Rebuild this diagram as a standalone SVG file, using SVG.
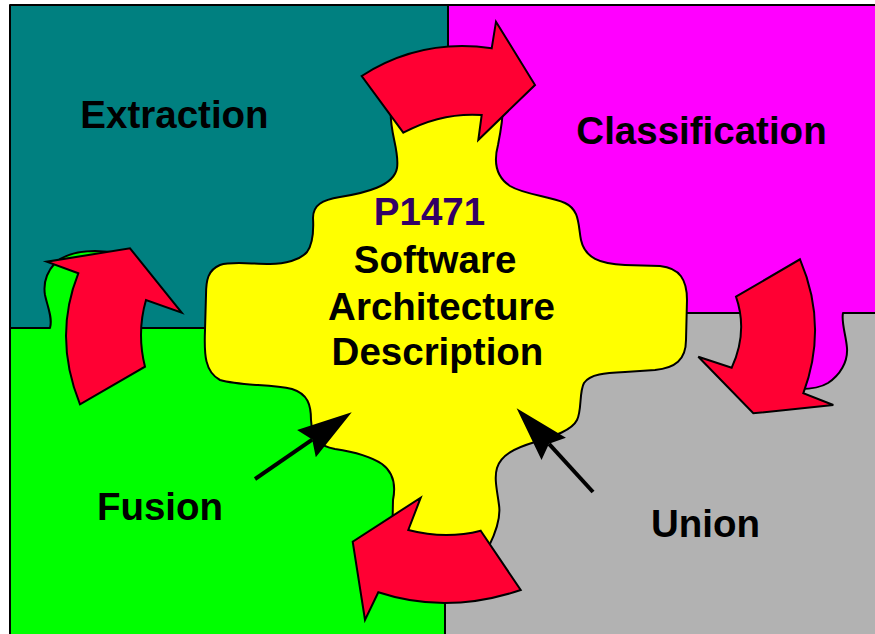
<svg xmlns="http://www.w3.org/2000/svg" width="875" height="634" viewBox="0 0 875 634">
  <style>
    .edge { stroke: #000; stroke-width: 2; stroke-linejoin: round; }
    .turn { fill: #FF0033; stroke: #000; stroke-width: 2; stroke-linejoin: miter; }
    .label { font-family: "Liberation Sans", Arial, sans-serif; font-weight: bold; font-size: 38.5px; fill: #000; text-anchor: middle; }
    .pointer { fill: none; stroke: #000; stroke-width: 4; }
  </style>
  <defs>
    <marker id="head" markerUnits="userSpaceOnUse" orient="auto" refX="0" refY="0" markerWidth="70" markerHeight="40" viewBox="-10 -20 70 40" overflow="visible">
      <path d="M48,0 L-7,-16.5 L0,0 L-7,16.5 Z" fill="#000"/>
    </marker>
  </defs>
  <rect width="875" height="634" fill="#fff"/>

  <!-- Quadrants -->
  <g id="extraction">
    <rect class="edge" x="10" y="5" width="438" height="323" fill="#008080"/>
  </g>
  <g id="union">
    <rect class="edge" x="445" y="313" width="440" height="330" fill="#B2B2B2"/>
  </g>
  <g id="classification">
    <path class="edge" fill="#FF00FF" d="M448,5 L885,5 L885,313 L843,313 C841,322 846,335 847,348 C848,362 840,375 828,383 C820,388 810,389 800,389 L795,389 L795,313 L448,313 Z"/>
  </g>
  <g id="fusion">
    <path class="edge" fill="#00FF00" d="M10,328 L50,328 C53,318 47,305 45,295 C43,283 47,272 55,263 C65,254 80,251 95,251 L112,252 L115,265 L115,328 L445,328 L445,645 L10,645 Z"/>
  </g>

  <!-- Central description -->
  <g id="p1471">
    <path class="edge" fill="#FFFF00" d="M391,105 C388,130 400,150 397,168 C394,186 365,193 340,197 C322,200 313,205 313,218 C314,235 312,245 307,252 C300,260 285,264 270,264 C250,264 232,261 220,265 C208,270 206,280 206,295 L205,330 C204,355 205,372 220,380 C240,386 270,384 292,389 C308,394 311,405 311,420 C312,440 320,446 335,449 C355,452 370,456 382,464 C393,472 396,485 393,500 L392,548 L486,548 L489,546 C496,532 501,518 499,505 C497,490 494,478 497,468 C501,455 515,448 535,442 C555,436 572,430 577,420 C582,410 579,392 584,383 C590,374 605,373 625,372 L655,370 C675,368 686,360 686,340 L687,300 C687,280 680,268 660,266 L625,265 C600,264 585,258 581,240 C578,225 580,210 565,203 C550,196 525,195 510,186 C495,176 494,160 498,145 C501,130 503,115 503,105 Z"/>
  </g>

  <!-- Connectors -->
  <g id="connectors">
    <path class="turn" d="M361.7,76 Q421,38 491.7,48.3 L496,21.7 L535,85 L478.3,140 L481.7,115 Q441.5,112.2 403.3,132.7 Z"/>
    <path class="turn" d="M736,296.7 L800,259.3 Q828.4,325.7 803.3,393.3 L833.3,405 L753.3,413.3 L698.3,356.7 L731.7,367.7 Q748.2,331.8 736,296.7 Z"/>
    <path class="turn" d="M480.7,530.7 L520.7,590 Q446.5,614.9 378.3,592.3 L365,620 L352.7,541.7 L420.7,497.7 L408.3,530 Q445.5,539.7 480.7,530.7 Z"/>
    <path class="turn" d="M78.3,273.3 L46.7,261.7 L130,248.3 L181.7,312.7 L146,300 Q136.5,332.7 145,366.7 L80,404.3 Q52.9,337.2 78.3,273.3 Z"/>
    <line class="pointer" x1="255" y1="479" x2="312.2" y2="439.6" marker-end="url(#head)"/>
    <line class="pointer" x1="593" y1="492" x2="549" y2="443.8" marker-end="url(#head)"/>
  </g>

  <!-- Labels -->
  <text class="label" x="174.5" y="128">Extraction</text>
  <text class="label" x="701.5" y="144">Classification</text>
  <text class="label" x="160" y="520">Fusion</text>
  <text class="label" x="705.5" y="537">Union</text>
  <text class="label" x="429.5" y="225" style="fill:#330066">P1471</text>
  <text class="label" x="435" y="273">Software</text>
  <text class="label" x="441.5" y="320">Architecture</text>
  <text class="label" x="437.5" y="365">Description</text>
</svg>
